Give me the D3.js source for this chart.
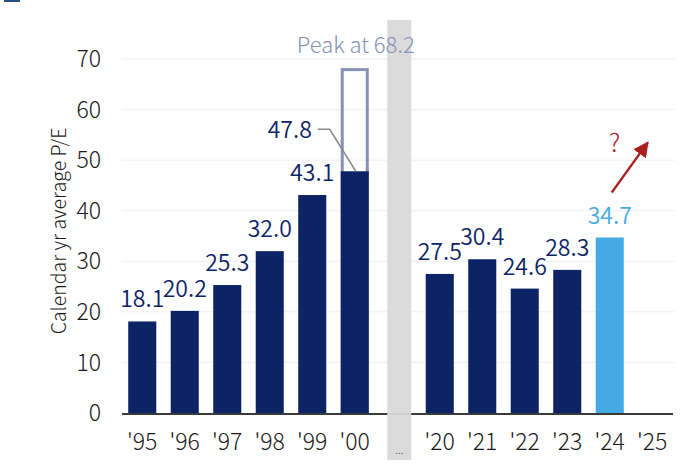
<!DOCTYPE html>
<html><head><meta charset="utf-8">
<script src="https://cdn.jsdelivr.net/npm/d3@7"></script>
<style>
html,body{margin:0;padding:0;background:#fff;}
svg{display:block;font-family:"Noto Sans CJK KR","Noto Sans",sans-serif;font-weight:300;}
</style></head>
<body><svg id="c" width="690" height="464"></svg>
<script>
const categories = ["'95","'96","'97","'98","'99","'00","...","'20","'21","'22","'23","'24","'25"];
const values = [18.1,20.2,25.3,32.0,43.1,47.8,null,27.5,30.4,24.6,28.3,34.7,null];
const highlight = ["'24"];
const yTicks = [0,10,20,30,40,50,60,70];
const peakCategory = "'00";
const peakValue = 68.2;
const peakLabel = "Peak at 68.2";
const gapCategory = "...";
const yTitle = "Calendar yr average P/E";

const FONT = "'Noto Sans CJK KR','Noto Sans',sans-serif";
const FS = 23;
const navy = "#0c2366", light = "#45a9e4", peakCol = "#8791b3", arrowCol = "#a8211f";
const svg = d3.select("#c");
const x = d3.scaleBand().domain(categories).range([121, 673.5]).paddingInner(0.34).paddingOuter(0.17);
const y = d3.scaleLinear().domain([0,70]).range([413, 59]);

// top-left mark
svg.append("rect").attr("x",4).attr("y",0).attr("width",16).attr("height",2).attr("fill","#2b4f86");

// gridlines
svg.append("g").selectAll("line").data(yTicks.filter(d=>d>0)).join("line")
  .attr("x1",122).attr("x2",675).attr("y1",d=>y(d)).attr("y2",d=>y(d))
  .attr("stroke","#efefef").attr("stroke-width",1);

// y axis labels
const yAxis = d3.axisLeft(y).tickValues(yTicks).tickSize(0).tickPadding(0);
const gy = svg.append("g").attr("transform","translate(101,0)").call(yAxis);
gy.select(".domain").remove();
gy.selectAll("text").attr("font-size",FS).attr("fill","#1a1a1a").attr("font-family",FONT).attr("font-weight",300).attr("dy","0.33em");

// y title
svg.append("text").attr("transform","translate(66,231) rotate(-90)").attr("text-anchor","middle")
  .attr("font-size",19.5).attr("fill","#1a1a1a").text(yTitle);

const data = categories.map((c,i)=>({c, v: values[i]}));

// peak outline
svg.append("rect").attr("x",x(peakCategory)+1.5).attr("width",x.bandwidth()-3)
  .attr("y",y(peakValue)+1.5).attr("height",y(0)-y(peakValue)-1.5)
  .attr("fill","none").attr("stroke",peakCol).attr("stroke-width",3);

// bars
svg.append("g").selectAll("rect").data(data.filter(d=>d.v!=null)).join("rect")
  .attr("x",d=>x(d.c)).attr("width",x.bandwidth())
  .attr("y",d=>y(d.v)).attr("height",d=>y(0)-y(d.v))
  .attr("fill",d=>highlight.includes(d.c)?light:navy);

// axis baseline
svg.append("line").attr("x1",122).attr("x2",673).attr("y1",y(0)+1).attr("y2",y(0)+1)
  .attr("stroke","#3a3a3a").attr("stroke-width",2);

// gap band
const gx = x(gapCategory)+x.bandwidth()/2+2;
svg.append("rect").attr("x",gx-12).attr("width",24).attr("y",20).attr("height",440)
  .attr("fill","#d9d9d9").attr("opacity",0.95);

// x labels
const xAxis = d3.axisBottom(x).tickSize(0).tickPadding(0);
const gxA = svg.append("g").attr("transform",`translate(0,${y(0)})`).call(xAxis);
gxA.select(".domain").remove();
gxA.selectAll("text").attr("font-size",FS).attr("fill","#1a1a1a").attr("font-family",FONT).attr("font-weight",300)
  .attr("y",37).attr("dy",0);
gxA.selectAll(".tick").filter(d=>d===gapCategory).select("text")
  .attr("font-size",11).attr("fill","#555").attr("y",41).attr("transform","translate(2,0)").text("...");

// value labels
svg.append("g").selectAll("text").data(data.filter(d=>d.v!=null && d.c!==peakCategory)).join("text")
  .attr("x",d=>x(d.c)+x.bandwidth()/2).attr("y",d=>y(d.v)-14)
  .attr("text-anchor","middle").attr("font-size",FS).attr("font-weight",350)
  .attr("fill",d=>highlight.includes(d.c)?light:navy)
  .text(d=>d.v.toFixed(1));

// peak bar label with leader
const pv = values[categories.indexOf(peakCategory)];
const pcx = x(peakCategory)+x.bandwidth()/2;
svg.append("text").attr("x",pcx-65).attr("y",y(pv)-33).attr("text-anchor","middle")
  .attr("font-size",FS).attr("font-weight",350).attr("fill",navy).text(pv.toFixed(1));
svg.append("polyline").attr("points",`${pcx-37},${y(pv)-42} ${pcx-25},${y(pv)-42} ${pcx+1},${y(pv)}`)
  .attr("fill","none").attr("stroke","#8a8a8a").attr("stroke-width",1.5);

// peak label
svg.append("text").attr("x",pcx+1).attr("y",y(peakValue)-15).attr("text-anchor","middle")
  .attr("font-size",22).attr("fill",peakCol).text(peakLabel);

// arrow
const defs = svg.append("defs");
defs.append("marker").attr("id","ah").attr("viewBox","0 0 10 10").attr("refX",9).attr("refY",5)
  .attr("markerWidth",7).attr("markerHeight",7).attr("markerUnits","strokeWidth").attr("orient","auto")
  .append("path").attr("d","M0,0 L10,5 L0,10 z").attr("fill",arrowCol);
const ax = x("'24")+x.bandwidth()/2;
svg.append("line").attr("x1",ax+2).attr("y1",y(34.7)-45).attr("x2",ax+38).attr("y2",y(34.7)-95)
  .attr("stroke",arrowCol).attr("stroke-width",2.2).attr("marker-end","url(#ah)");
svg.append("text").attr("x",ax+5).attr("y",y(34.7)-86).attr("text-anchor","middle")
  .attr("font-size",25).attr("fill",arrowCol).text("?");
</script></body></html>
